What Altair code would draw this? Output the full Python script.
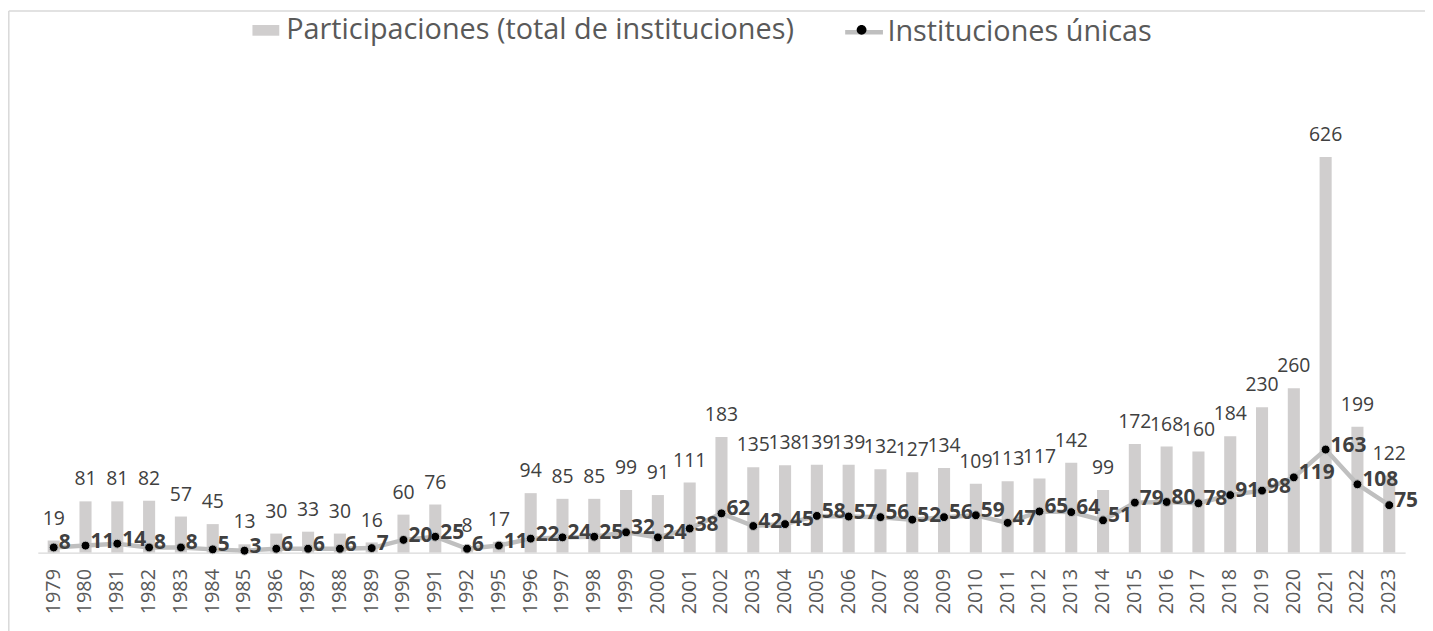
import altair as alt
import pandas as pd

years = ["1979", "1980", "1981", "1982", "1983", "1984", "1985", "1986", "1987", "1988",
         "1989", "1990", "1991", "1992", "1995", "1996", "1997", "1998", "1999", "2000",
         "2001", "2002", "2003", "2004", "2005", "2006", "2007", "2008", "2009", "2010",
         "2011", "2012", "2013", "2014", "2015", "2016", "2017", "2018", "2019", "2020",
         "2021", "2022", "2023"]
participaciones = [19, 81, 81, 82, 57, 45, 13, 30, 33, 30,
                   16, 60, 76, 8, 17, 94, 85, 85, 99, 91,
                   111, 183, 135, 138, 139, 139, 132, 127, 134, 109,
                   113, 117, 142, 99, 172, 168, 160, 184, 230, 260,
                   626, 199, 122]
unicas = [8, 11, 14, 8, 8, 5, 3, 6, 6, 6,
          7, 20, 25, 6, 11, 22, 24, 25, 32, 24,
          38, 62, 42, 45, 58, 57, 56, 52, 56, 59,
          47, 65, 64, 51, 79, 80, 78, 91, 98, 119,
          163, 108, 75]

BAR_LABEL = "Participaciones (total de instituciones)"
LINE_LABEL = "Instituciones únicas"

df = pd.DataFrame({"year": years, "part": participaciones, "uni": unicas})
df["s_bar"] = BAR_LABEL
df["s_line"] = LINE_LABEL
df["s_dot"] = "punto"

W, H = 1376, 445
FONT = "Open Sans"

x = alt.X("year:N", sort=years,
          scale=alt.Scale(paddingInner=0.62, paddingOuter=0.31),
          axis=alt.Axis(title=None, labelAngle=-90, labelFont=FONT, labelFontSize=20,
                        labelColor="#595959", labelPadding=16, ticks=False,
                        domainColor="#D9D9D9", domainWidth=1.3, grid=False))
yscale = alt.Scale(domain=[0, 700], nice=False, zero=True)

base = alt.Chart(df)

bars = base.mark_bar().encode(
    x=x,
    y=alt.Y("part:Q", scale=yscale, axis=None),
    color=alt.Color("s_bar:N", scale=alt.Scale(domain=[BAR_LABEL], range=["#D0CECE"]),
                    legend=alt.Legend(title=None, orient="none", legendX=215, legendY=-95,
                                      symbolType="M-1,-0.4H1V0.4H-1Z", symbolSize=729,
                                      symbolStrokeWidth=0, labelFont=FONT, labelFontSize=29,
                                      labelColor="#595959", labelOffset=6, labelLimit=0,
                                      padding=0)),
)

line = base.mark_line(strokeWidth=4.5).encode(
    x=x,
    y=alt.Y("uni:Q", scale=yscale, axis=None),
    stroke=alt.Stroke("s_line:N", scale=alt.Scale(domain=[LINE_LABEL], range=["#BFBFBF"]),
                      legend=alt.Legend(title=None, orient="none", legendX=810, legendY=-100,
                                        symbolType="M-1,0H1", symbolSize=1444,
                                        symbolStrokeWidth=4.5, labelFont=FONT, labelFontSize=29,
                                        labelColor="#595959", labelOffset=2, labelLimit=0,
                                        padding=0)),
)

points = base.mark_circle(size=80, opacity=1, stroke="#BFBFBF", strokeWidth=1).encode(
    x=x,
    y=alt.Y("uni:Q", scale=yscale, axis=None),
    fill=alt.Fill("s_dot:N", scale=alt.Scale(domain=["punto"], range=["#000000"]),
                  legend=alt.Legend(title=None, orient="none", legendX=810, legendY=-100,
                                    symbolType="M0.26,0A0.26,0.26 0 1,1 -0.26,0A0.26,0.26 0 1,1 0.26,0Z",
                                    symbolSize=1444, symbolStrokeWidth=0, labelExpr="''",
                                    labelFont=FONT, labelFontSize=29, labelOffset=2, padding=0)),
)

bar_text = base.mark_text(font=FONT, fontSize=19.5, color="#404040", baseline="alphabetic",
                          align="center", dy=-16).encode(
    x=x, y=alt.Y("part:Q", scale=yscale, axis=None), text="part:Q")

line_text = base.mark_text(font=FONT, fontSize=21, fontWeight="bold", color="#404040",
                           baseline="middle", align="left", dx=5, dy=-4).encode(
    x=x, y=alt.Y("uni:Q", scale=yscale, axis=None), text="uni:Q")

frame_df = pd.DataFrame({"k": [0]})
border_left = alt.Chart(frame_df).mark_rule(color="#D9D9D9", strokeWidth=1.5).encode(
    x=alt.value(-29.2), y=alt.value(-100), y2=alt.value(H + 200))
border_top = alt.Chart(frame_df).mark_rule(color="#D9D9D9", strokeWidth=1.5).encode(
    y=alt.value(-100), x=alt.value(-29.2), x2=alt.value(W + 200))

chart = alt.layer(bars, line, points, bar_text, line_text, border_left, border_top).properties(
    width=W, height=H,
    autosize=alt.AutoSizeParams(type="none"),
    padding={"left": 30, "top": 101, "right": 20, "bottom": 80},
    background="white",
).configure_view(strokeWidth=0, stroke="transparent")

chart.save("out.html", embed_options={"renderer": "svg", "actions": False})
